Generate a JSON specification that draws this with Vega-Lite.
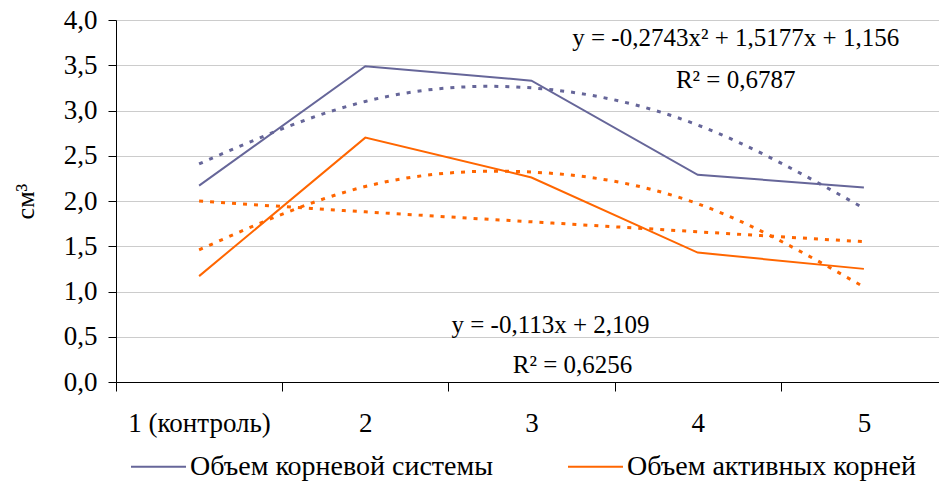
{
  "$schema": "https://vega.github.io/schema/vega-lite/v6.json",
  "width": 823,
  "height": 362,
  "autosize": {"type": "none"},
  "padding": {"left": 116, "top": 20, "right": 0, "bottom": 102},
  "config": {
    "view": {"stroke": null},
    "font": "Liberation Serif",
    "axis": {"labelFont": "Liberation Serif", "titleFont": "Liberation Serif", "labelColor": "#000000", "titleColor": "#000000"},
    "legend": {"labelFont": "Liberation Serif"}
  },
  "datasets": {
    "main": [
      {"x": "1 (контроль)", "y": 2.17, "s": "Объем корневой системы"},
      {"x": "2", "y": 3.49, "s": "Объем корневой системы"},
      {"x": "3", "y": 3.33, "s": "Объем корневой системы"},
      {"x": "4", "y": 2.29, "s": "Объем корневой системы"},
      {"x": "5", "y": 2.15, "s": "Объем корневой системы"},
      {"x": "1 (контроль)", "y": 1.17, "s": "Объем активных корней"},
      {"x": "2", "y": 2.70, "s": "Объем активных корней"},
      {"x": "3", "y": 2.26, "s": "Объем активных корней"},
      {"x": "4", "y": 1.43, "s": "Объем активных корней"},
      {"x": "5", "y": 1.25, "s": "Объем активных корней"}
    ],
    "trend": [
      {"x": "1 (контроль)", "y": 2.41, "s": "Объем корневой системы", "t": "poly1"},
      {"x": "2", "y": 3.10, "s": "Объем корневой системы", "t": "poly1"},
      {"x": "3", "y": 3.25, "s": "Объем корневой системы", "t": "poly1"},
      {"x": "4", "y": 2.84, "s": "Объем корневой системы", "t": "poly1"},
      {"x": "5", "y": 1.92, "s": "Объем корневой системы", "t": "poly1"},
      {"x": "1 (контроль)", "y": 1.46, "s": "Объем активных корней", "t": "poly2"},
      {"x": "2", "y": 2.16, "s": "Объем активных корней", "t": "poly2"},
      {"x": "3", "y": 2.32, "s": "Объем активных корней", "t": "poly2"},
      {"x": "4", "y": 1.97, "s": "Объем активных корней", "t": "poly2"},
      {"x": "5", "y": 1.05, "s": "Объем активных корней", "t": "poly2"},
      {"x": "1 (контроль)", "y": 2.00, "s": "Объем активных корней", "t": "lin"},
      {"x": "2", "y": 1.88, "s": "Объем активных корней", "t": "lin"},
      {"x": "3", "y": 1.77, "s": "Объем активных корней", "t": "lin"},
      {"x": "4", "y": 1.66, "s": "Объем активных корней", "t": "lin"},
      {"x": "5", "y": 1.55, "s": "Объем активных корней", "t": "lin"}
    ],
    "labels": [
      {"x": "4", "y": 3.80, "label": "y = -0,2743x² + 1,5177x + 1,156", "g": "a"},
      {"x": "4", "y": 3.34, "label": "R² = 0,6787", "g": "a"},
      {"x": "3", "y": 0.63, "label": "y = -0,113x + 2,109", "g": "b"},
      {"x": "3", "y": 0.19, "label": "R² = 0,6256", "g": "c"}
    ]
  },
  "layer": [
    {
      "data": {"name": "main"},
      "mark": {"type": "line", "strokeWidth": 2},
      "encoding": {
        "x": {
          "field": "x", "type": "nominal",
          "scale": {"type": "band", "domain": ["1 (контроль)", "2", "3", "4", "5"], "range": [0, 831], "paddingInner": 0, "paddingOuter": 0},
          "axis": {"title": null, "labelAngle": 0, "tickBand": "extent", "tickSize": 9, "labelPadding": 19, "labelFontSize": 27, "grid": false, "domainColor": "#000000", "tickColor": "#000000", "domainWidth": 1}
        },
        "y": {
          "field": "y", "type": "quantitative",
          "scale": {"domain": [0, 4], "nice": false},
          "axis": {"values": [0, 0.5, 1, 1.5, 2, 2.5, 3, 3.5, 4], "labelExpr": "replace(format(datum.value, '.1f'), '.', ',')", "title": "см³", "titleFontSize": 26, "titleFontWeight": "normal", "titlePadding": 25, "tickSize": 8, "tickColor": "#000000", "domainColor": "#000000", "gridColor": "#CCCCCC", "labelFontSize": 27, "labelPadding": 11}
        },
        "color": {
          "field": "s", "type": "nominal",
          "scale": {"domain": ["Объем корневой системы", "Объем активных корней"], "range": ["#666699", "#FF6600"]},
          "legend": {"orient": "none", "legendX": 14, "legendY": 418, "direction": "horizontal", "title": null, "symbolType": "stroke", "symbolSize": 3025, "symbolStrokeWidth": 2, "labelFontSize": 28, "labelLimit": 600, "columnPadding": 70, "labelOffset": 3, "labelColor": "#000000"}
        }
      }
    },
    {
      "data": {"name": "trend"},
      "mark": {"type": "line", "strokeWidth": 3, "strokeDash": [4, 7], "interpolate": "natural"},
      "encoding": {
        "x": {"field": "x", "type": "nominal"},
        "y": {"field": "y", "type": "quantitative"},
        "color": {"field": "s", "type": "nominal", "legend": null},
        "detail": {"field": "t"}
      }
    },
    {
      "data": {"name": "labels"},
      "transform": [{"filter": "datum.g == 'a'"}],
      "mark": {"type": "text", "font": "Liberation Serif", "fontSize": 25, "dx": 38, "align": "center", "baseline": "middle", "color": "#000000"},
      "encoding": {
        "x": {"field": "x", "type": "nominal"},
        "y": {"field": "y", "type": "quantitative"},
        "text": {"field": "label"}
      }
    },
    {
      "data": {"name": "labels"},
      "transform": [{"filter": "datum.g == 'b'"}],
      "mark": {"type": "text", "font": "Liberation Serif", "fontSize": 25, "dx": 19, "align": "center", "baseline": "middle", "color": "#000000"},
      "encoding": {
        "x": {"field": "x", "type": "nominal"},
        "y": {"field": "y", "type": "quantitative"},
        "text": {"field": "label"}
      }
    },
    {
      "data": {"name": "labels"},
      "transform": [{"filter": "datum.g == 'c'"}],
      "mark": {"type": "text", "font": "Liberation Serif", "fontSize": 25, "dx": 41, "align": "center", "baseline": "middle", "color": "#000000"},
      "encoding": {
        "x": {"field": "x", "type": "nominal"},
        "y": {"field": "y", "type": "quantitative"},
        "text": {"field": "label"}
      }
    }
  ]
}
